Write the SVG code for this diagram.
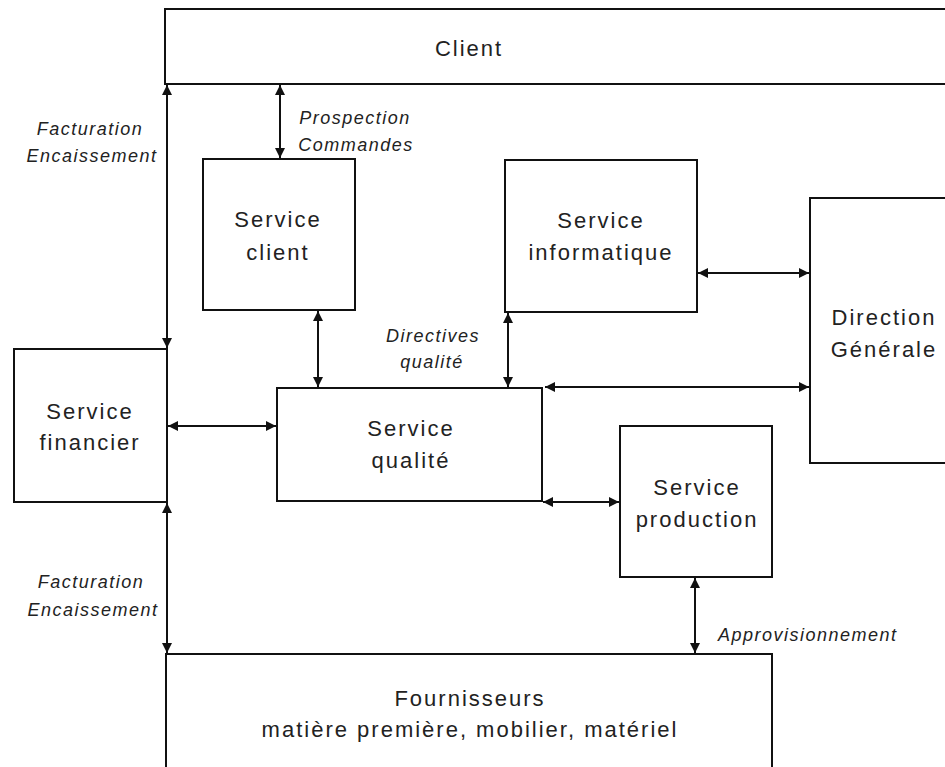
<svg xmlns="http://www.w3.org/2000/svg" width="945" height="767" viewBox="0 0 945 767">
<style>
.box{fill:#fff;stroke:#111;stroke-width:2}
.t{font-family:"Liberation Sans",Arial,sans-serif;font-size:22px;letter-spacing:2px;fill:#222;text-anchor:middle}
.lbl{font-family:"Liberation Sans",Arial,sans-serif;font-size:18px;font-style:italic;letter-spacing:1.5px;fill:#222}
.c{text-anchor:middle}
.con line{stroke:#111;stroke-width:2;marker-start:url(#ah);marker-end:url(#ah)}
</style>
<defs>
<marker id="ah" viewBox="0 0 10 10" refX="10" refY="5" markerWidth="5" markerHeight="5" orient="auto-start-reverse" markerUnits="strokeWidth">
<path d="M0,0 L10,5 L0,10 z" fill="#111"/>
</marker>
</defs>
<rect width="945" height="767" fill="#fff"/>
<g id="client"><rect class="box" x="165" y="9" width="820" height="75"/><text class="t" x="469" y="56">Client</text></g>
<g id="service-client"><rect class="box" x="203" y="159" width="152" height="151"/><text class="t" x="278" y="227">Service</text><text class="t" x="278" y="260">client</text></g>
<g id="service-informatique"><rect class="box" x="505" y="160" width="192" height="152"/><text class="t" x="601" y="228">Service</text><text class="t" x="601" y="260">informatique</text></g>
<g id="direction"><rect class="box" x="810" y="198" width="200" height="265"/><text class="t" x="884" y="325">Direction</text><text class="t" x="884" y="357">Générale</text></g>
<g id="service-financier"><rect class="box" x="14" y="349" width="153" height="153"/><text class="t" x="90" y="419">Service</text><text class="t" x="90" y="450">financier</text></g>
<g id="service-qualite"><rect class="box" x="277" y="388" width="265" height="113"/><text class="t" x="411" y="436">Service</text><text class="t" x="411" y="468">qualité</text></g>
<g id="service-production"><rect class="box" x="620" y="426" width="152" height="151"/><text class="t" x="697" y="495">Service</text><text class="t" x="697" y="527">production</text></g>
<g id="fournisseurs"><rect class="box" x="166" y="654" width="606" height="130"/><text class="t" x="470" y="706">Fournisseurs</text><text class="t" x="470" y="737">matière première, mobilier, matériel</text></g>
<g id="connectors" class="con">
<line x1="167" y1="85" x2="167" y2="348"/>
<line x1="167" y1="503" x2="167" y2="653"/>
<line x1="280" y1="85" x2="280" y2="158"/>
<line x1="318" y1="311" x2="318" y2="387"/>
<line x1="508" y1="313" x2="508" y2="387"/>
<line x1="698" y1="273" x2="809" y2="273"/>
<line x1="545" y1="387" x2="809" y2="387"/>
<line x1="168" y1="426" x2="276" y2="426"/>
<line x1="543" y1="502" x2="619" y2="502"/>
<line x1="695" y1="578" x2="695" y2="653"/>
</g>
<g id="labels">
<text class="lbl c" x="90" y="135">Facturation</text>
<text class="lbl c" x="92" y="162">Encaissement</text>
<text class="lbl c" x="355" y="124">Prospection</text>
<text class="lbl c" x="356" y="151">Commandes</text>
<text class="lbl c" x="433" y="342">Directives</text>
<text class="lbl c" x="432" y="368">qualité</text>
<text class="lbl c" x="91" y="588">Facturation</text>
<text class="lbl c" x="93" y="616">Encaissement</text>
<text class="lbl" x="718" y="641">Approvisionnement</text>
</g>
</svg>
